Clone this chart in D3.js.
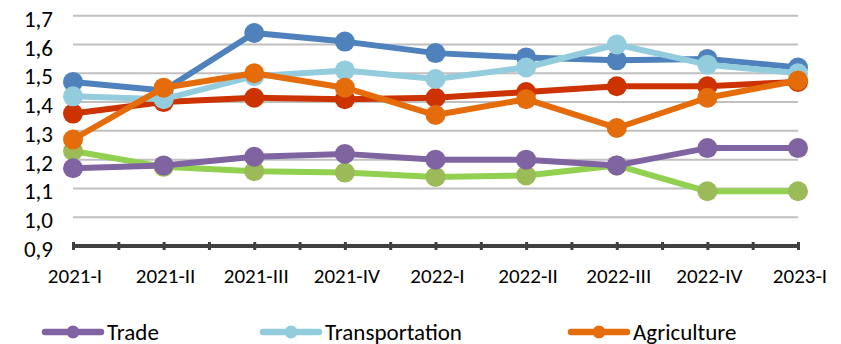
<!DOCTYPE html>
<html>
<head>
<meta charset="utf-8">
<script src="https://cdn.jsdelivr.net/npm/d3@7"></script>
<style>
  body { margin: 0; background: #fff; }
  svg { display: block; font-family: Carlito, Calibri, "Open Sans", sans-serif; }
</style>
</head>
<body>
<svg id="chart" width="841" height="344"></svg>
<script>
"use strict";
const quarters = ["2021-I", "2021-II", "2021-III", "2021-IV", "2022-I", "2022-II", "2022-III", "2022-IV", "2023-I"];
const yTicks = [0.9, 1.0, 1.1, 1.2, 1.3, 1.4, 1.5, 1.6, 1.7];

const trade          = [1.17, 1.18, 1.21, 1.22, 1.20, 1.20, 1.18, 1.24, 1.24];
const transportation = [1.42, 1.41, 1.49, 1.51, 1.48, 1.52, 1.60, 1.53, 1.50];
const agriculture    = [1.27, 1.45, 1.50, 1.45, 1.355, 1.41, 1.31, 1.415, 1.475];
const industry       = [1.47, 1.44, 1.64, 1.61, 1.57, 1.555, 1.545, 1.55, 1.52];
const construction   = [1.36, 1.40, 1.415, 1.41, 1.415, 1.435, 1.455, 1.455, 1.47];
const services       = [1.23, 1.175, 1.16, 1.155, 1.14, 1.145, 1.18, 1.09, 1.09];

// drawing order: bottom first
const series = [
    {name: "Services",       values: services,       line: "#92D050", dot: "#9BBB59"},
    {name: "Trade",          values: trade,          line: "#8064A2", dot: "#8064A2"},
    {name: "Industry",       values: industry,       line: "#4F81BD", dot: "#4F81BD"},
    {name: "Construction",   values: construction,   line: "#CC3300", dot: "#CC3300"},
    {name: "Transportation", values: transportation, line: "#93CDDD", dot: "#93CDDD"},
    {name: "Agriculture",    values: agriculture,    line: "#E46C0A", dot: "#E46C0A"}
];
// only the first legend row is visible in the picture
const legendNames = ["Trade", "Transportation", "Agriculture"];

const svg = d3.select("#chart");
const plot = {left: 73, right: 798, top: 15.7, bottom: 246};

const x = d3.scalePoint().domain(quarters).range([plot.left, plot.right]);
const xi = d3.scaleLinear().domain([0, quarters.length - 1]).range([plot.left, plot.right]);
const y = d3.scaleLinear().domain([0.9, 1.7]).range([plot.bottom, plot.top]);

// gridlines
svg.append("g")
    .selectAll("line")
    .data(yTicks.filter(d => d > 0.95))
    .join("line")
    .attr("x1", plot.left).attr("x2", plot.right)
    .attr("y1", d => y(d)).attr("y2", d => y(d))
    .attr("stroke", "#C0C0C0")
    .attr("stroke-width", 2);

// y labels
svg.append("g")
    .selectAll("text")
    .data(yTicks)
    .join("text")
    .attr("x", 53)
    .attr("y", d => y(d) + 3)
    .attr("dy", "0.35em")
    .attr("text-anchor", "end")
    .attr("font-size", 23)
    .attr("fill", "#000")
    .text(d => d3.format(".1f")(d).replace(".", ","));

// x axis with ticks at categories and midpoints
const axis = svg.append("g")
    .attr("transform", "translate(0," + plot.bottom + ")")
    .call(d3.axisBottom(xi).tickValues(d3.range(0, quarters.length - 0.5, 0.5)).tickSize(8).tickFormat(""));
axis.select(".domain")
    .attr("d", "M" + plot.left + ",0H" + plot.right)
    .attr("stroke", "#404040")
    .attr("stroke-width", 4);
axis.selectAll(".tick line")
    .attr("y1", -4).attr("y2", 4)
    .attr("stroke", "#404040")
    .attr("stroke-width", 3);

// x labels
svg.append("g")
    .selectAll("text")
    .data(quarters)
    .join("text")
    .attr("x", d => x(d) + 2)
    .attr("y", 283)
    .attr("text-anchor", "middle")
    .attr("font-size", 21)
    .attr("fill", "#000")
    .text(d => d);

// lines and markers
const line = d3.line()
    .x((d, i) => x(quarters[i]))
    .y(d => y(d));

series.forEach(s => {
    const g = svg.append("g");
    g.append("path")
        .datum(s.values)
        .attr("d", line)
        .attr("fill", "none")
        .attr("stroke", s.line)
        .attr("stroke-width", 6)
        .attr("stroke-linejoin", "round");
    g.selectAll("circle")
        .data(s.values)
        .join("circle")
        .attr("cx", (d, i) => x(quarters[i]))
        .attr("cy", d => y(d))
        .attr("r", 10)
        .attr("fill", s.dot);
});

// legend
const legendX = [45, 263, 571];
const byName = {};
series.forEach(s => byName[s.name] = s);
const legend = svg.append("g")
    .selectAll("g")
    .data(legendNames)
    .join("g")
    .attr("transform", (d, i) => "translate(" + legendX[i] + ",332)");
legend.append("line")
    .attr("x1", 0).attr("x2", 56)
    .attr("stroke", d => byName[d].line)
    .attr("stroke-width", 6.5)
    .attr("stroke-linecap", "round");
legend.append("circle")
    .attr("cx", 28).attr("r", 6.5)
    .attr("fill", d => byName[d].dot);
legend.append("text")
    .attr("x", 62)
    .attr("y", 7.5)
    .attr("font-size", 23)
    .attr("fill", "#000")
    .text(d => d);
</script>
</body>
</html>
